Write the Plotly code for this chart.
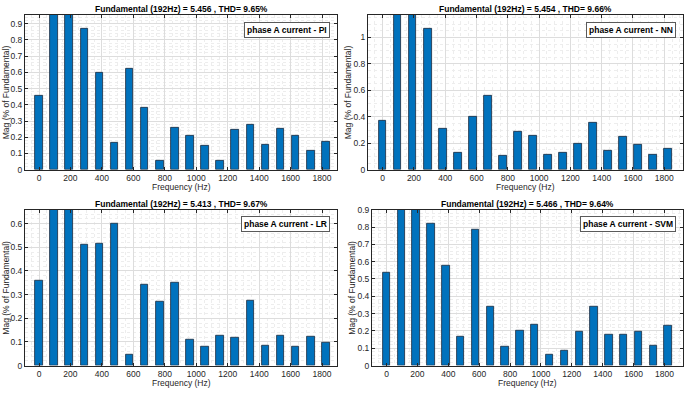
import plotly.graph_objects as go

# ---------------- data ----------------
freqs = [0, 96, 192, 288, 384, 480, 576, 672, 768, 864,
         960, 1056, 1152, 1248, 1344, 1440, 1536, 1632, 1728, 1824]

# magnitudes in % of fundamental (bars at 96 Hz and 192 Hz run off the scale)
mag_pi = [0.453, 1.5, 100.0, 0.868, 0.600, 0.166, 0.625, 0.383, 0.058, 0.259,
          0.210, 0.150, 0.054, 0.248, 0.279, 0.156, 0.253, 0.210, 0.118, 0.174]
mag_nn = [0.368, 1.5, 100.0, 1.067, 0.311, 0.132, 0.397, 0.561, 0.105, 0.287,
          0.257, 0.110, 0.125, 0.196, 0.355, 0.147, 0.252, 0.191, 0.110, 0.157]
mag_lr = [0.360, 1.5, 100.0, 0.511, 0.515, 0.599, 0.045, 0.343, 0.270, 0.350,
          0.108, 0.081, 0.125, 0.119, 0.273, 0.085, 0.128, 0.078, 0.124, 0.099]
mag_svm = [0.537, 1.5, 100.0, 0.821, 0.578, 0.166, 0.783, 0.343, 0.107, 0.201,
           0.237, 0.062, 0.088, 0.196, 0.343, 0.181, 0.181, 0.194, 0.117, 0.232]

titles = ["Fundamental (192Hz) = 5.456 , THD= 9.65%",
          "Fundamental (192Hz) = 5.454 , THD= 9.66%",
          "Fundamental (192Hz) = 5.413 , THD= 9.67%",
          "Fundamental (192Hz) = 5.466 , THD= 9.64%"]
labels = ["phase A current - PI", "phase A current - NN",
          "phase A current - LR", "phase A current - SVM"]
series = [mag_pi, mag_nn, mag_lr, mag_svm]
y_tops = [0.955, 1.172, 0.659, 0.90]
y_dticks = [0.1, 0.2, 0.1, 0.1]
y_minor = [0.02, 0.05, 0.02, 0.02]
x_label = "Frequency (Hz)"
y_label = "Mag (% of Fundamental)"

# ---------------- layout (pixel boxes) ----------------
W, H = 685, 394
# left, right, top, bottom in pixels
boxes = [(25, 337, 10, 169), (368, 683, 10, 169),
         (25, 337, 210, 370), (372, 683, 210, 370)]
x_ranges = [[-89, 1895], [-94, 1920], [-89, 1895], [-94, 1920]]

FONT = "Liberation Sans, Arial, Helvetica, sans-serif"
AX = "#262626"
FS = 8.5

fig = go.Figure()
annotations = []
layout = dict(width=W, height=H, margin=dict(l=0, r=0, t=0, b=0),
              paper_bgcolor="white", plot_bgcolor="white",
              showlegend=False, bargap=0,
              font=dict(family=FONT, size=FS, color=AX))

for i, (vals, (l, r, t, b)) in enumerate(zip(series, boxes)):
    n = "" if i == 0 else str(i + 1)
    fig.add_trace(go.Bar(
        x=freqs, y=vals, width=48,
        marker=dict(color="#0072BD", line=dict(color="#1b2a3c", width=0.8)),
        xaxis="x" + n, yaxis="y" + n, hoverinfo="x+y"))
    xd = [l / W, r / W]
    yd = [1 - b / H, 1 - t / H]
    common = dict(showline=True, linecolor=AX, linewidth=1, mirror="ticks",
                  ticks="inside", ticklen=3, tickcolor=AX, tickwidth=1,
                  showgrid=True, gridcolor="#dddddd", gridwidth=1,
                  zeroline=False, tickfont=dict(size=FS, color=AX, family=FONT))
    layout["xaxis" + n] = dict(
        common, domain=xd, range=x_ranges[i], anchor="y" + n,
        tickmode="linear", tick0=0, dtick=200,
        minor=dict(tick0=0, dtick=50, showgrid=True, gridcolor="#ededed",
                   griddash="dot", gridwidth=1, ticks=""))
    layout["yaxis" + n] = dict(
        common, domain=yd, range=[0, y_tops[i]], anchor="x" + n,
        tickmode="linear", tick0=0, dtick=y_dticks[i],
        minor=dict(tick0=0, dtick=y_minor[i], showgrid=True, gridcolor="#ededed",
                   griddash="dot", gridwidth=1, ticks=""))
    cx = (l + r) / 2 / W
    # title
    annotations.append(dict(text="<b>" + titles[i] + "</b>", xref="paper", yref="paper",
                            x=cx, y=1 - (t - 6) / H, xanchor="center", yanchor="middle",
                            showarrow=False, font=dict(size=FS, color="#000000", family=FONT)))
    # x label
    annotations.append(dict(text=x_label, xref="paper", yref="paper",
                            x=cx, y=1 - (b + 18) / H, xanchor="center", yanchor="middle",
                            showarrow=False, font=dict(size=FS, color=AX, family=FONT)))
    # y label
    ylx = 6 if i % 2 == 0 else l - 20
    annotations.append(dict(text=y_label, xref="paper", yref="paper",
                            x=ylx / W, y=1 - (t + b) / 2 / H, xanchor="center", yanchor="middle",
                            textangle=-90, showarrow=False,
                            font=dict(size=FS, color=AX, family=FONT)))
    # legend-like box
    annotations.append(dict(text="<b>" + labels[i] + "</b>", xref="paper", yref="paper",
                            x=(r - 7) / W, y=1 - (t + 7) / H, xanchor="right", yanchor="top",
                            showarrow=False, bgcolor="white", bordercolor="#5a5a5a",
                            borderwidth=1, borderpad=2,
                            font=dict(size=FS, color="#000000", family=FONT)))

layout["annotations"] = annotations
fig.update_layout(**layout)
fig.write_html("out.html",
               config={"displayModeBar": False},
               post_script="document.body.style.margin='0';"
                           "document.body.style.overflow='hidden';")
